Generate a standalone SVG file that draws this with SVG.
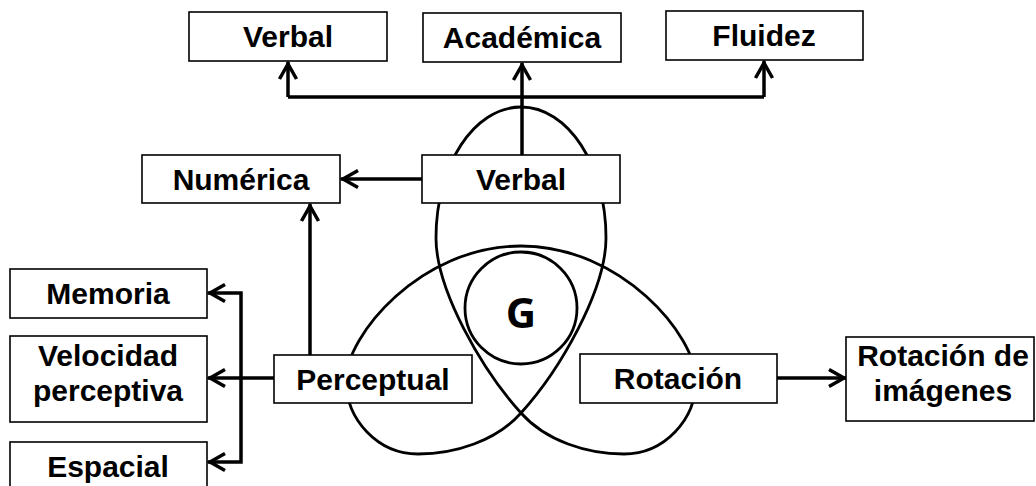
<svg xmlns="http://www.w3.org/2000/svg" width="1036" height="486" viewBox="0 0 1036 486">
<style>
.box{fill:#fff;stroke:#000;stroke-width:1.6}
.lbl{font-family:"Liberation Sans",Arial,sans-serif;font-weight:bold;font-size:30px;fill:#000;text-anchor:middle}
.con{fill:none;stroke:#000;stroke-width:3.5;stroke-linejoin:miter}
.arr{marker-end:url(#ah)}
.knot{fill:none;stroke:#000;stroke-width:2.8}
.g{font-family:"Open Sans","Liberation Sans",sans-serif;font-weight:bold;font-size:42px;fill:#000;text-anchor:middle}
</style>
<defs>
<marker id="ah" viewBox="0 0 20 20" refX="18" refY="10" markerWidth="20" markerHeight="20" markerUnits="userSpaceOnUse" orient="auto" overflow="visible">
<path d="M1,1.5 L16,10 L1,18.5" fill="none" stroke="#000" stroke-width="3.5"/>
</marker>
</defs>
<rect width="1036" height="486" fill="#fff"/>
<g id="trefoil">
<path class="knot" d="M521,107 C568,107 606,165 606,238 C606,290 560,370 521,413 C496,441 455,454 418,454 C378,454 346,420 346,380 C346,336 420,246 521,246 C622,246 696,336 696,380 C696,420 664,454 624,454 C587,454 546,441 521,413 C482,370 436,290 436,238 C436,165 474,107 521,107 Z"/>
<circle class="knot" cx="521" cy="308" r="56"/>
<text class="g" x="521" y="328">G</text>
</g>
<g id="connectors">
<path class="con arr" d="M522,155 V63"/>
<path class="con" d="M288,97 H764"/>
<path class="con arr" d="M288,97 V62"/>
<path class="con arr" d="M764,97 V61"/>
<path class="con arr" d="M422,179 H341"/>
<path class="con arr" d="M310,355 V204"/>
<path class="con arr" d="M274,378 H208"/>
<path class="con arr" d="M241,378 V293 H208"/>
<path class="con arr" d="M241,378 V462 H208"/>
<path class="con arr" d="M777,378 H846"/>
</g>
<g id="n-verbal-top"><rect class="box" x="189" y="12" width="198" height="49"/><text class="lbl" x="288" y="47">Verbal</text></g>
<g id="n-academica"><rect class="box" x="423" y="13" width="198" height="49"/><text class="lbl" x="522" y="48">Académica</text></g>
<g id="n-fluidez"><rect class="box" x="666" y="11" width="197" height="49"/><text class="lbl" x="764" y="46">Fluidez</text></g>
<g id="n-numerica"><rect class="box" x="142" y="155" width="198" height="48"/><text class="lbl" x="241" y="190">Numérica</text></g>
<g id="n-verbal"><rect class="box" x="422" y="155" width="198" height="48"/><text class="lbl" x="521" y="190">Verbal</text></g>
<g id="n-memoria"><rect class="box" x="10" y="269" width="197" height="49"/><text class="lbl" x="108" y="304">Memoria</text></g>
<g id="n-velocidad"><rect class="box" x="10" y="336" width="197" height="86"/><text class="lbl" x="108" y="366">Velocidad</text><text class="lbl" x="108" y="401">perceptiva</text></g>
<g id="n-espacial"><rect class="box" x="10" y="442" width="197" height="50"/><text class="lbl" x="108" y="477">Espacial</text></g>
<g id="n-perceptual"><rect class="box" x="274" y="355" width="198" height="48"/><text class="lbl" x="373" y="390">Perceptual</text></g>
<g id="n-rotacion"><rect class="box" x="580" y="354" width="197" height="49"/><text class="lbl" x="678" y="389">Rotación</text></g>
<g id="n-rotacion-imagenes"><rect class="box" x="846" y="337" width="188" height="84"/><text class="lbl" x="943" y="366">Rotación de</text><text class="lbl" x="943" y="401">imágenes</text></g>
</svg>
